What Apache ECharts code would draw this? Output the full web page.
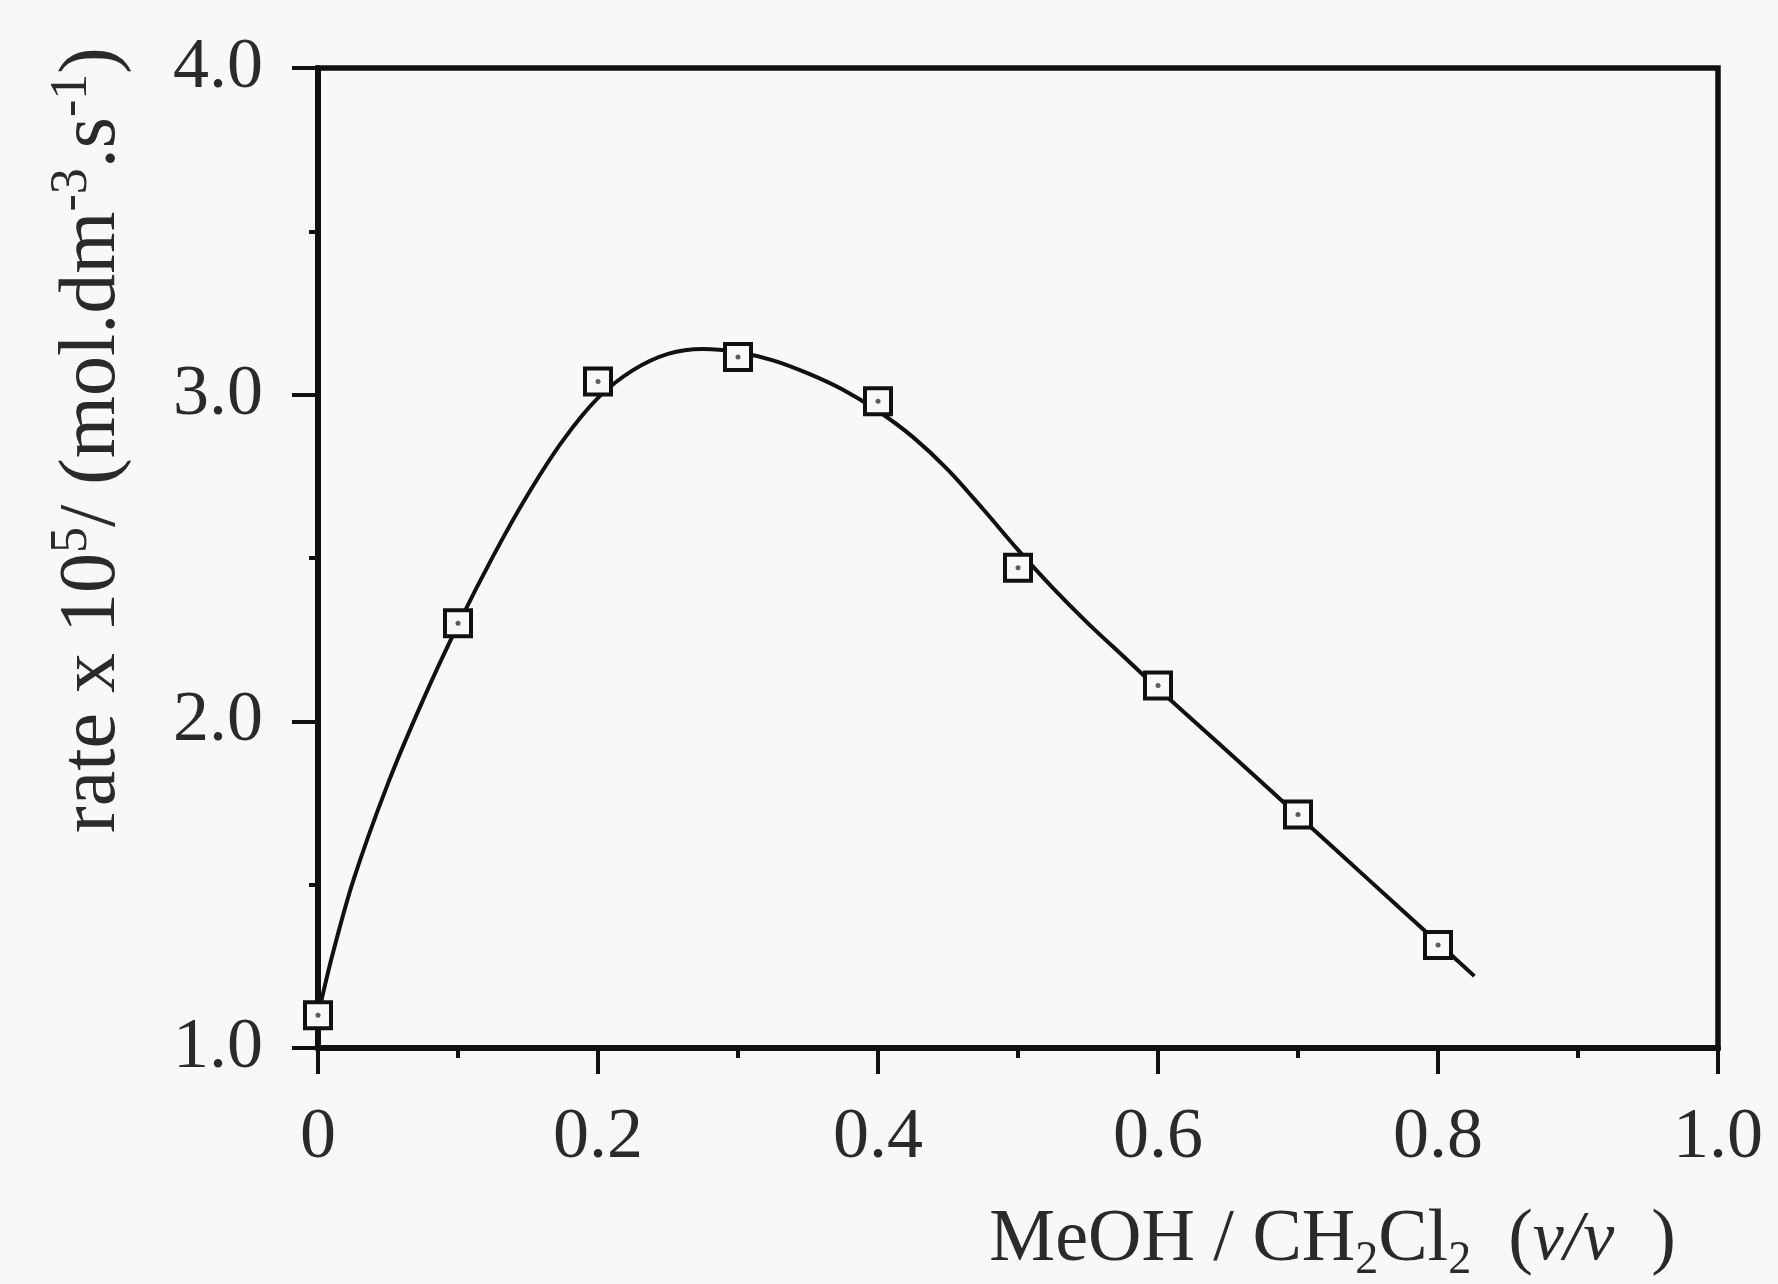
<!DOCTYPE html>
<html>
<head>
<meta charset="utf-8">
<script src="https://cdn.jsdelivr.net/npm/echarts@6/dist/echarts.min.js"></script>
<style>
html,body{margin:0;padding:0;background:#f8f8f8;}
#chart{width:1778px;height:1284px;}
</style>
</head>
<body>
<div id="chart"></div>
<script>
// Measured points (MeOH fraction, rate x 10^5)
const xPoints = [0, 0.1, 0.2, 0.3, 0.4, 0.5, 0.6, 0.7, 0.8];
const ratePoints = [1.10, 2.30, 3.04, 3.115, 2.98, 2.47, 2.11, 1.715, 1.315];
// Fitted curve
const curveX = [0, 0.01, 0.025, 0.05, 0.075, 0.1, 0.125, 0.15, 0.175, 0.2, 0.225, 0.25, 0.275, 0.3, 0.325, 0.35, 0.375, 0.4, 0.425, 0.45, 0.475, 0.5, 0.525, 0.55, 0.575, 0.6, 0.65, 0.7, 0.75, 0.8, 0.826];
const curveY = [1.10, 1.28, 1.51, 1.81, 2.065, 2.295, 2.505, 2.695, 2.86, 2.99, 3.075, 3.125, 3.14, 3.13, 3.105, 3.065, 3.015, 2.95, 2.87, 2.77, 2.65, 2.525, 2.408, 2.30, 2.20, 2.10, 1.907, 1.712, 1.517, 1.322, 1.22];
const xTickLabels = ['0', '0.2', '0.4', '0.6', '0.8', '1.0'];
const yTickLabels = ['1.0', '2.0', '3.0', '4.0'];

const serif = '"Liberation Serif", "DejaVu Serif", serif';
const ink = '#111';
const txt = '#2a2a2a';

const chart = echarts.init(document.getElementById('chart'), null, {renderer: 'canvas'});
chart.setOption({
  backgroundColor: '#f8f8f8',
  animation: false,
  grid: {left: 318, right: 60, top: 68, bottom: 235, show: true, borderColor: ink, borderWidth: 5.5, backgroundColor: 'transparent'},
  xAxis: {
    type: 'value', min: 0, max: 1, interval: 0.2,
    axisLine: {show: true, lineStyle: {color: ink, width: 6}},
    axisTick: {show: true, inside: false, length: 26, lineStyle: {color: ink, width: 4}},
    minorTick: {show: true, splitNumber: 2, length: 10, lineStyle: {color: ink, width: 4}},
    splitLine: {show: false},
    axisLabel: {
      margin: 54, color: txt, fontFamily: serif, fontSize: 72,
      formatter: (v, i) => xTickLabels[i]
    },
    name: '{n|MeOH / CH}{s|2}{n|Cl}{s|2}{n|  (}{i|v/v}{n|  )}',
    nameLocation: 'end',
    nameGap: -42,
    nameTextStyle: {
      align: 'right', verticalAlign: 'top', padding: [150, 0, 0, 0],
      rich: {
        n: {fontFamily: serif, fontSize: 74, color: txt},
        s: {fontFamily: serif, fontSize: 46, color: txt, padding: [40, 0, 0, 0]},
        i: {fontFamily: serif, fontSize: 70, fontStyle: 'italic', color: txt}
      }
    }
  },
  yAxis: {
    type: 'value', min: 1, max: 4, interval: 1,
    axisLine: {show: true, lineStyle: {color: ink, width: 6}},
    axisTick: {show: true, inside: false, length: 26, lineStyle: {color: ink, width: 4}},
    minorTick: {show: true, splitNumber: 2, length: 9, lineStyle: {color: ink, width: 4}},
    splitLine: {show: false},
    axisLabel: {
      margin: 55, color: txt, fontFamily: serif, fontSize: 72,
      formatter: (v, i) => yTickLabels[i]
    },
    name: '{n|rate x 10}{p|5}{n|/ (mol.dm}{p|-3}{n|.s}{p|-1}{n|)}',
    nameLocation: 'middle',
    nameRotate: 90,
    nameGap: 178,
    nameTextStyle: {
      padding: [0, 0, 0, 236],
      rich: {
        n: {fontFamily: serif, fontSize: 80, color: txt},
        p: {fontFamily: serif, fontSize: 52, color: txt, padding: [0, 0, 42, 0]}
      }
    }
  },
  series: [
    {
      type: 'line',
      data: curveX.map((x, i) => [x, curveY[i]]),
      smooth: 0.3,
      showSymbol: false,
      symbol: 'none',
      lineStyle: {color: ink, width: 4},
      z: 2
    },
    {
      type: 'scatter',
      data: xPoints.map((x, i) => [x, ratePoints[i]]),
      symbol: 'rect',
      symbolSize: 26,
      itemStyle: {color: '#f8f8f8', borderColor: ink, borderWidth: 4, opacity: 1},
      z: 3
    },
    {
      type: 'scatter',
      data: xPoints.map((x, i) => [x, ratePoints[i]]),
      symbol: 'circle',
      symbolSize: 5,
      itemStyle: {color: '#333'},
      z: 4
    }
  ]
});
</script>
</body>
</html>
